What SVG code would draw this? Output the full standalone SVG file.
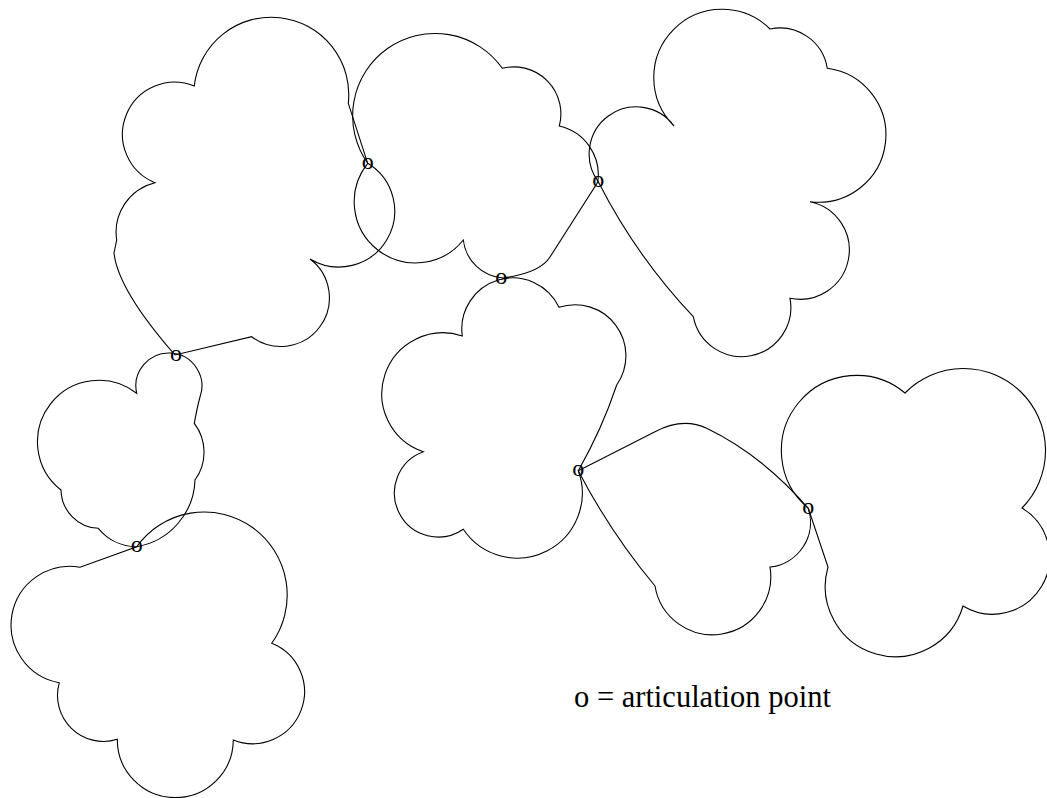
<svg xmlns="http://www.w3.org/2000/svg" width="1047" height="798" viewBox="0 0 1047 798">
<style>
.c{fill:none;stroke:#000;stroke-width:1.1;stroke-linejoin:miter}
.ap{font-family:"Liberation Serif","Times New Roman",serif;font-size:24px;text-anchor:middle;fill:#000}
.lbl{font-family:"Liberation Serif","Times New Roman",serif;font-size:30.5px;fill:#000}
</style>
<rect width="1047" height="798" fill="#fff"/>
<g id="cloud1"><path class="c" d="M367.7,163.3 A55 55 0 0 1 310,259 A48 48 0 0 1 251.7,336.7 L175,355 Q118,290 114,253 L116.7,240 A51 51 0 0 1 155,182.7 A52 52 0 0 1 194.3,86 A77 77 0 0 1 348.3,103.3 Z"/></g>
<g id="cloud2"><path class="c" d="M367.7,163.3 A82 82 0 0 1 502.3,68.3 A47 47 0 0 1 559.3,126 A50 50 0 0 1 597.7,182.3 L550,257 Q540,273 503,278 A43 43 0 0 1 463.3,240 A61 61 0 0 1 367.7,163.3 Z"/></g>
<g id="cloud3"><path class="c" d="M598.3,181.7 A46 46 0 0 1 674,126 A68 68 0 0 1 770,29 A48 48 0 0 1 827.3,68.3 A67 67 0 0 1 810,201.7 A48 48 0 0 1 790,298.3 A49 49 0 0 1 693.3,316.7 Q636,256 598.3,181.7 Z"/></g>
<g id="cloud4"><path class="c" d="M462.3,336 A51 51 0 0 1 559,307.3 A51 51 0 0 1 616.7,385 Q602,429 578.3,470.7 A65 65 0 0 1 463.3,529.3 A44 44 0 1 1 423.3,451.7 A61 61 0 0 1 462.3,336 Z"/></g>
<g id="cloud5"><path class="c" d="M578.3,470.7 L655,431.7 Q683,417 706.7,428.3 Q762,455 808.3,508.3 A45 45 0 0 1 770,567 A58 58 0 0 1 655,586 Q610,532 578.3,470.7 Z"/></g>
<g id="cloud6"><path class="c" d="M808.3,508.3 A75 75 0 1 1 905,393 A81 81 0 0 1 1022,508 A57 57 0 0 1 963,606 A70 70 0 0 1 828,567 Z"/></g>
<g id="cloud7"><path class="c" d="M136.7,393.3 A33 33 0 1 1 200,397 Q197,408 194.3,423.3 A47.5 47.5 0 0 1 195,480 A70 70 0 0 1 136.7,546.7 A50 50 0 0 1 98.3,528.3 A39 39 0 0 1 61,490 A61 61 0 0 1 136.7,393.3 Z"/></g>
<g id="cloud8"><path class="c" d="M136.7,546.7 A82.5 82.5 0 0 1 271.7,643.3 A51 51 0 0 1 233.3,740 A57 57 0 0 1 117.3,739.3 A46 46 0 0 1 59.3,682.7 A58 58 0 0 1 80,567.3 Z"/></g>
<g id="connectors"></g>
<g id="ap1"><text class="ap" x="367.7" y="169">o</text></g>
<g id="ap2"><text class="ap" x="176" y="360.7">o</text></g>
<g id="ap3"><text class="ap" x="501.3" y="284">o</text></g>
<g id="ap4"><text class="ap" x="598.3" y="187.4">o</text></g>
<g id="ap5"><text class="ap" x="578.3" y="476.4">o</text></g>
<g id="ap6"><text class="ap" x="808.3" y="514">o</text></g>
<g id="ap7"><text class="ap" x="136.7" y="552.4">o</text></g>
<g id="legend"><text class="lbl" x="574" y="707.3">o = articulation point</text></g>
</svg>
